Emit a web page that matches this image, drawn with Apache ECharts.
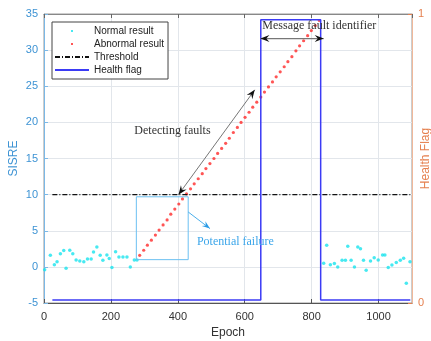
<!DOCTYPE html>
<html>
<head>
<meta charset="utf-8">
<script src="https://cdn.jsdelivr.net/npm/echarts@6/dist/echarts.min.js"></script>
<style>
  html, body { margin: 0; padding: 0; background: #fff; }
  #chart { width: 431px; height: 341px; }
</style>
</head>
<body>
<div id="chart"></div>
<script>
// normal results (before and after the fault)
const normalEpoch = [2, 19, 31, 39, 49, 59, 66, 77, 86, 96, 107, 119, 130, 141, 148, 158, 168, 176, 188, 195, 203, 214, 224, 236, 248, 258, 270, 278,
  836, 845, 856, 868, 878, 891, 901, 908, 918, 928, 938, 946, 955, 963, 976, 987, 999, 1012, 1019, 1029, 1040, 1053, 1065, 1075, 1083, 1094];
const normalSisre = [-0.4, 1.6, 0.3, 0.7, 1.8, 2.25, -0.2, 2.3, 1.8, 0.95, 0.8, 0.7, 1.1, 1.1, 2.05, 2.75, 1.6, 0.9, 1.65, 1.15, -0.1, 2.1, 1.35, 1.35, 1.35, 0, 0.95, 0.95,
  0.5, 3.0, 0.3, 0.45, 0, 0.9, 0.9, 2.85, 0.9, 0, 2.75, 2.5, 0.9, -0.45, 0.8, 1.25, 0.95, 1.65, 1.65, -0.1, 0.25, 0.6, 0.9, 1.2, -2.25, 0.7];

// abnormal results (ramp fault)
const abnormalEpoch = [286, 298, 309, 321, 333, 344, 356, 368, 379, 391, 403, 414, 426, 438, 449, 461, 473, 484, 496, 508,
  519, 531, 543, 554, 566, 578, 589, 601, 613, 624, 636, 648, 659, 671, 683, 694, 706, 718, 729, 741,
  753, 764, 776, 788, 799, 811, 823];
const abnormalSisre = [1.6, 2.3, 3.0, 3.7, 4.4, 5.1, 5.8, 6.5, 7.3, 8.0, 8.7, 9.4, 10.1, 10.8, 11.5, 12.2, 12.9, 13.6, 14.3, 15.0,
  15.7, 16.4, 17.1, 17.8, 18.6, 19.3, 20.0, 20.7, 21.4, 22.1, 22.8, 23.5, 24.2, 24.9, 25.6, 26.3, 27.0, 27.7, 28.4, 29.1,
  29.9, 30.6, 31.3, 32.0, 32.7, 33.4, 34.1];

// threshold
const thresholdEpoch = [25, 1095];
const thresholdSisre = [10, 10];

// health flag (right axis)
const flagEpoch = [25, 648, 648, 827, 827, 1095];
const flagValue = [0.01, 0.01, 0.98, 0.98, 0.01, 0.01];

const zip = (a, b) => a.map((v, i) => [v, b[i]]);

const BLUE_AX = '#3d93d4';
const ORANGE = '#e5804f';
const GRID = '#e2e6eb';
const SANS = '"Liberation Sans", Arial, sans-serif';
const SERIF = '"Liberation Serif", "DejaVu Serif", serif';
const dotIcon = 'path://M0 0M34 10M16 4h2v2h-2z';
const noSymbol = { color: 'rgba(0,0,0,0)', borderWidth: 0 };

const chart = echarts.init(document.getElementById('chart'));

chart.setOption({
  animation: false,
  grid: {
    left: 44, right: 19, top: 14, bottom: 38, outerBoundsMode: 'none', containLabel: false,
    show: true, borderColor: '#9a9a9a', borderWidth: 1
  },
  legend: {
    orient: 'vertical',
    left: 52, top: 22,
    padding: [4, 4, 4, 2],
    itemWidth: 34, itemHeight: 10, itemGap: 3,
    borderColor: '#444', borderWidth: 1, backgroundColor: '#fff',
    textStyle: { fontFamily: SANS, fontSize: 10, color: '#222' },
    data: [
      { name: 'Normal result', icon: dotIcon },
      { name: 'Abnormal result', icon: dotIcon },
      { name: 'Threshold', itemStyle: noSymbol },
      { name: 'Health flag', itemStyle: noSymbol }
    ]
  },
  xAxis: [{
    type: 'value', min: 0, max: 1100, interval: 200,
    name: 'Epoch', nameLocation: 'middle', nameGap: 24, nameMoveOverlap: false,
    nameTextStyle: { fontFamily: SANS, fontSize: 12, color: '#333' },
    axisLine: { onZero: false, lineStyle: { color: '#555' } },
    axisTick: { inside: true, length: 4, lineStyle: { color: '#555' } },
    axisLabel: { fontFamily: SANS, fontSize: 11, color: '#333', margin: 8, showMaxLabel: false, formatter: v => String(v) },
    splitLine: { show: true, lineStyle: { color: GRID } }
  }, {
    type: 'value', min: 0, max: 1100, interval: 200, position: 'top',
    axisLine: { onZero: false, lineStyle: { color: '#888' } },
    axisTick: { inside: true, length: 4, lineStyle: { color: '#666' } },
    axisLabel: { show: false },
    splitLine: { show: false }
  }],
  yAxis: [{
    type: 'value', min: -5, max: 35, interval: 5,
    name: 'SISRE', nameLocation: 'middle', nameGap: 24, nameRotate: 90, nameMoveOverlap: false,
    nameTextStyle: { fontFamily: SANS, fontSize: 12, color: BLUE_AX },
    axisLine: { show: true, onZero: false, lineStyle: { color: '#7bb8e6' } },
    axisTick: { show: true, inside: true, length: 4, lineStyle: { color: '#7bb8e6' } },
    axisLabel: { fontFamily: SANS, fontSize: 11, color: BLUE_AX, margin: 6 },
    splitLine: { show: true, lineStyle: { color: GRID } }
  }, {
    type: 'value', min: 0, max: 1, interval: 1, position: 'right',
    name: 'Health Flag', nameLocation: 'middle', nameGap: 8, nameRotate: 90, nameMoveOverlap: false,
    nameTextStyle: { fontFamily: SANS, fontSize: 12, color: ORANGE, verticalAlign: 'top' },
    axisLine: { show: true, onZero: false, lineStyle: { color: '#f0b89a' } },
    axisTick: { show: true, inside: true, length: 4, lineStyle: { color: ORANGE } },
    axisLabel: { fontFamily: SANS, fontSize: 11, color: ORANGE, margin: 6 },
    splitLine: { show: false }
  }],
  series: [
    {
      name: 'Normal result', type: 'scatter', symbol: 'circle', symbolSize: 3.5,
      itemStyle: { color: '#19e3ee' },
      data: zip(normalEpoch, normalSisre)
    },
    {
      name: 'Abnormal result', type: 'scatter', symbol: 'circle', symbolSize: 3.2,
      itemStyle: { color: '#ff2b2b' },
      data: zip(abnormalEpoch, abnormalSisre)
    },
    {
      name: 'Threshold', type: 'line', symbol: 'none',
      lineStyle: { color: '#111', width: 1.2, type: [5, 2, 1, 2] },
      itemStyle: { color: '#111' },
      data: zip(thresholdEpoch, thresholdSisre)
    },
    {
      name: 'Health flag', type: 'line', symbol: 'none', yAxisIndex: 1,
      lineStyle: { color: '#3b3bf5', width: 1.5 },
      itemStyle: { color: '#3b3bf5' },
      data: zip(flagEpoch, flagValue)
    }
  ]
});

// annotations placed in data coordinates
const P = (x, y) => chart.convertToPixel({ xAxisIndex: 0, yAxisIndex: 0 }, [x, y]);

function head(tip, from, color, len, wid) {
  const dx = tip[0] - from[0], dy = tip[1] - from[1];
  const d = Math.hypot(dx, dy), ux = dx / d, uy = dy / d, nx = -uy, ny = ux;
  const bx = tip[0] - ux * len, by = tip[1] - uy * len;
  const mx = tip[0] - ux * len * 0.65, my = tip[1] - uy * len * 0.65;
  return {
    type: 'polygon', z: 100,
    shape: { points: [tip, [bx + nx * wid / 2, by + ny * wid / 2], [mx, my], [bx - nx * wid / 2, by - ny * wid / 2]] },
    style: { fill: color }
  };
}
function line(a, b, color, w) {
  return { type: 'line', z: 99, shape: { x1: a[0], y1: a[1], x2: b[0], y2: b[1] }, style: { stroke: color, lineWidth: w } };
}
function label(p, text, color, align) {
  return { type: 'text', z: 101, x: p[0], y: p[1], style: { text, font: '12px ' + SERIF, fill: color, align, verticalAlign: 'middle' } };
}

const g = [];
// message fault identifier
const m1 = P(647, 31.6), m2 = P(836, 31.6);
g.push(line(m1, m2, '#777', 1.2), head(m1, m2, '#111', 9, 7), head(m2, m1, '#111', 9, 7));
g.push(label(P(823, 33.3), 'Message fault identifier', '#333', 'center'));
// detecting faults
const d1 = P(402, 10.0), d2 = P(630, 24.5);
g.push(line(d1, d2, '#666', 0.9), head(d1, d2, '#111', 9, 7), head(d2, d1, '#111', 9, 7));
g.push(label(P(384, 18.8), 'Detecting faults', '#333', 'center'));
// potential failure box
const r1 = P(276, 9.7), r2 = P(431, 1.0);
g.push({ type: 'rect', z: 98, shape: { x: r1[0], y: r1[1], width: r2[0] - r1[0], height: r2[1] - r1[1] }, style: { fill: 'none', stroke: '#6cc0f2', lineWidth: 1 } });
const b1 = P(431, 7.6), b2 = P(496, 5.3);
g.push(line(b1, b2, '#4aaeea', 1), head(b2, b1, '#2a9be6', 8, 6));
g.push(label(P(457, 3.45), 'Potential failure', '#3aa5ea', 'left'));

chart.setOption({ graphic: g });
</script>
</body>
</html>
